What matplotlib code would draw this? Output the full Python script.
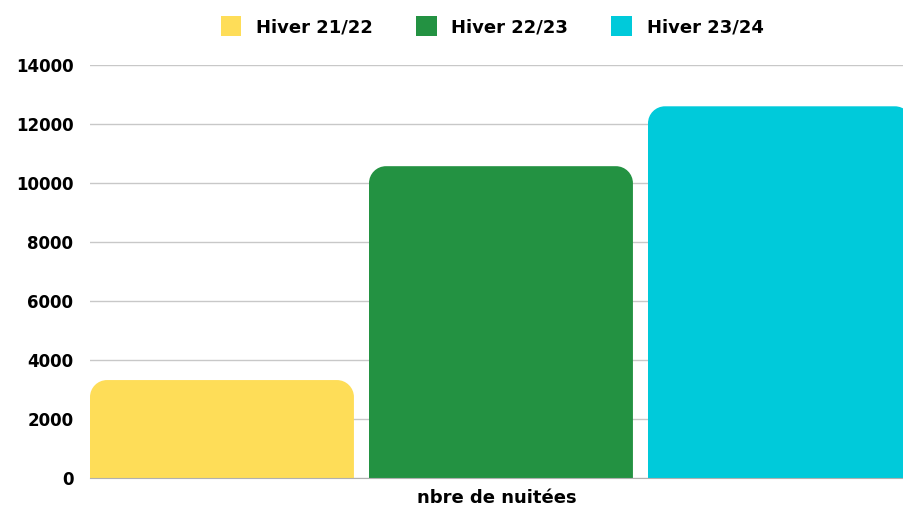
import matplotlib
matplotlib.use("Agg")
import matplotlib.pyplot as plt
from matplotlib.path import Path
from matplotlib.patches import PathPatch, Patch

categories = ["nbre de nuitées"]
series = ["Hiver 21/22", "Hiver 22/23", "Hiver 23/24"]
values = [3320, 10570, 12600]
colors = ["#FEDD58", "#239242", "#00CADA"]
yticks = [0, 2000, 4000, 6000, 8000, 10000, 12000, 14000]

plt.rcParams['font.family'] = ['DejaVu Sans']

W, H = 904, 508
fig = plt.figure(figsize=(W / 100, H / 100), dpi=100)
ax = fig.add_axes([90 / W, 30 / H, 814 / W, 413 / H])

width = 0.946
x = list(range(len(series)))
bars = ax.bar(x, values, width=width, color=colors, zorder=3)
ax.set_xlim(-width / 2, -width / 2 + 814 / 279)
ax.set_ylim(0, 14000)

# rounded top corners
px_x = 279.0
px_y = 413.0 / 14000
r_px = 17
for b, c in zip(bars, colors):
    x0, y0 = b.get_x(), b.get_y()
    x1, y1 = x0 + b.get_width(), y0 + b.get_height()
    rx, ry = r_px / px_x, r_px / px_y
    k = 0.5523
    verts = [(x0, y0), (x0, y1 - ry),
             (x0, y1 - ry + k * ry), (x0 + rx - k * rx, y1), (x0 + rx, y1),
             (x1 - rx, y1),
             (x1 - rx + k * rx, y1), (x1, y1 - ry + k * ry), (x1, y1 - ry),
             (x1, y0), (x0, y0)]
    codes = [Path.MOVETO, Path.LINETO,
             Path.CURVE4, Path.CURVE4, Path.CURVE4,
             Path.LINETO,
             Path.CURVE4, Path.CURVE4, Path.CURVE4,
             Path.LINETO, Path.CLOSEPOLY]
    b.set_visible(False)
    ax.add_patch(PathPatch(Path(verts, codes), facecolor=c, edgecolor='none', zorder=3))

ax.set_yticks(yticks)
ax.set_yticklabels([str(v) for v in yticks], fontsize=12, fontweight='bold')
ax.tick_params(axis='y', length=0, pad=12)
ax.set_xticks([])
ax.set_xlabel(categories[0], fontsize=13, fontweight='bold', labelpad=8)
ax.grid(axis='y', color='#c8c8c8', linewidth=1, zorder=0)
for s in ['top', 'right', 'left']:
    ax.spines[s].set_visible(False)
ax.spines['bottom'].set_color('#b0b0b0')
ax.spines['bottom'].set_zorder(4)

handles = [Patch(facecolor=c, edgecolor='none') for c in colors]
fig.legend(handles, series, loc='center', bbox_to_anchor=(492 / W, 1 - 26 / H),
           ncol=3, frameon=False, prop={'size': 13, 'weight': 'bold'},
           handlelength=1.15, handleheight=1.4, columnspacing=2.4, handletextpad=0.8)

fig.savefig("out.png", dpi=100)
